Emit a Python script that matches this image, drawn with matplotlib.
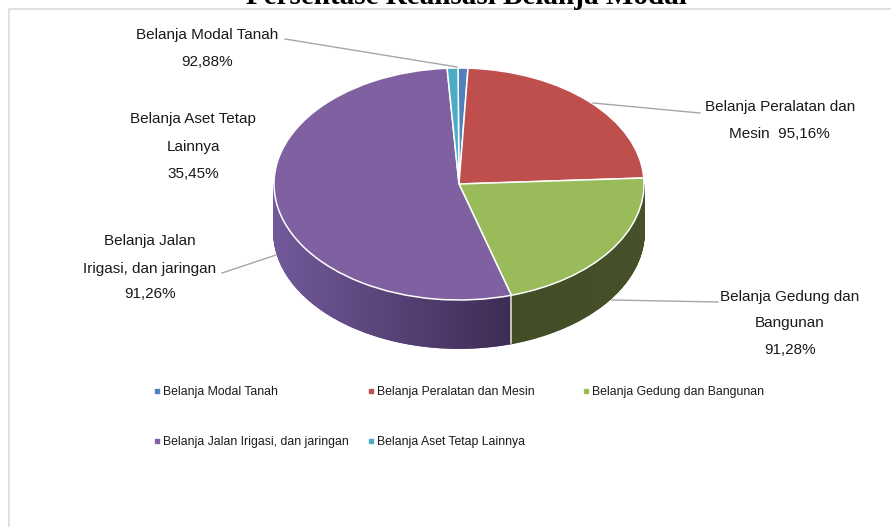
import logging
import matplotlib
matplotlib.use('Agg')
import matplotlib.pyplot as plt
from matplotlib.colors import to_rgb
import numpy as np

logging.getLogger('matplotlib.font_manager').setLevel(logging.ERROR)

# slice shares (percent of the pie)
categories = ['Belanja Modal Tanah', 'Belanja Peralatan dan Mesin', 'Belanja Gedung dan Bangunan',
              'Belanja Jalan Irigasi, dan jaringan', 'Belanja Aset Tetap Lainnya']
shares = [0.86, 23.4, 21.26, 53.54, 0.94]
colours = ['#4F81BD', '#BE4F4C', '#9ABB59', '#7F60A0', '#4BACC6']
title = 'Persentase Realisasi Belanja Modal'

NARROW = ['Liberation Sans Narrow', 'Liberation Sans', 'DejaVu Sans']
W, H = 891, 527
CX, CY, RX, RY, DEPTH = 459, 184, 185, 116, 48


def shade(c1, c2, t):
    return tuple((1 - t) * a + t * b for a, b in zip(to_rgb(c1), to_rgb(c2)))


fig = plt.figure(figsize=(W / 100, H / 100), dpi=100, facecolor='white')

# PIE: axes cover the whole figure, one unit is RX by RY pixels so the circle is squashed
ax = fig.add_axes([0, 0, 1, 1])
wedges, _ = ax.pie(shares, colors=colours, startangle=90.3, counterclock=False, radius=1,
                   center=(0, 0), wedgeprops={'edgecolor': 'white', 'linewidth': 1.1, 'zorder': 5},
                   frame=True)
ax.set_aspect('auto')
ax.set_xlim(-CX / RX, (W - CX) / RX)
ax.set_ylim((CY - H) / RY, CY / RY)
ax.axis('off')

# SIDE WALL
side_shades = {3: ('#72599A', '#3D2C54'), 2: ('#3B4620', '#46512A')}
depth = DEPTH / RY
for i, (c1, c2) in side_shades.items():
    t1, t2 = wedges[i].theta1, wedges[i].theta2
    thetas = np.radians(np.arange(t1, t2 + 0.5, 0.5))
    thetas = thetas[np.sin(thetas) <= 0.001]
    for k in range(len(thetas) - 1):
        a, b = thetas[k], thetas[k + 1]
        t = (np.cos(a) + 1) / 2 if i == 2 else (np.cos(a) + 1) / (1 + np.cos(np.radians(t2)))
        col = shade(c1, c2, min(max(t, 0), 1))
        ax.fill([np.cos(a), np.cos(b), np.cos(b), np.cos(a)],
                [np.sin(a), np.sin(b), np.sin(b) - depth, np.sin(a) - depth],
                facecolor=col, edgecolor=col, lw=1.2, zorder=2)
# split between purple and green on the wall
edge = np.radians(wedges[2].theta1)
ax.plot([np.cos(edge)] * 2, [np.sin(edge), np.sin(edge) - depth], color='#E8E8E0', lw=1.1, zorder=3)

# OVERLAY in pixel coordinates for text, leader lines and frame
ov = fig.add_axes([0, 0, 1, 1], facecolor='none')
ov.set_xlim(0, W)
ov.set_ylim(H, 0)
ov.axis('off')

ov.plot([8.5, 8.5, W], [H, 9, 9], color='#DADADA', lw=1.2)
ov.text(466, 4, title, family=['Liberation Serif'], fontweight='bold', fontsize=21,
        ha='center', va='baseline', color='black')

leaders = [((285, 39), (457, 67)), ((593, 103), (700, 113)), ((612, 300), (718, 302)), ((222, 273), (276, 255))]
for (x0, y0), (x1, y1) in leaders:
    ov.plot([x0, x1], [y0, y1], color='#A6A6A6', lw=1)

labels = [
    (207, 33, 'Belanja Modal Tanah'), (207, 61, '92,88%'),
    (193, 118, 'Belanja Aset Tetap'), (193, 145, 'Lainnya'), (193, 172, '35,45%'),
    (150, 239, 'Belanja Jalan'), (150, 267, 'Irigasi, dan jaringan'), (150, 293, '91,26%'),
    (780, 105, 'Belanja Peralatan dan'), (779, 132, 'Mesin  95,16%'),
    (790, 295, 'Belanja Gedung dan'), (790, 322, 'Bangunan'), (790, 349, '91,28%'),
]
for x, y, s in labels:
    ov.text(x, y + 1.5, s, family=NARROW, fontsize=11, ha='center', va='center', color='#1A1A1A')

# LEGEND
legend_pos = [(157, 391), (371, 391), (586, 391), (157, 441), (371, 441)]
for (x, y), name, c in zip(legend_pos, categories, colours):
    ov.plot([x], [y], marker='s', ms=3.5, color=c, ls='none')
    ov.text(x + 6, y + 0.5, name, family=NARROW, fontsize=8.8, ha='left', va='center', color='#1A1A1A')

fig.savefig('out.png', dpi=100)
